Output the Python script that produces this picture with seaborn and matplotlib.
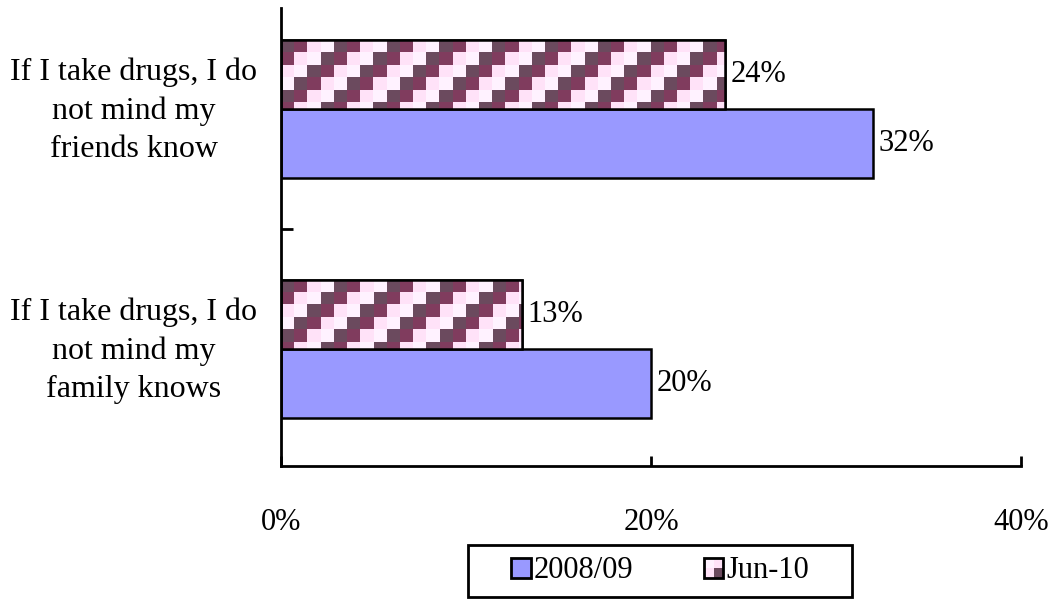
import numpy as np
import pandas as pd
import matplotlib
matplotlib.use("Agg")
import matplotlib.pyplot as plt
import matplotlib.transforms as mtransforms
from matplotlib.patches import Rectangle, Patch
from matplotlib.legend_handler import HandlerBase
from matplotlib.ticker import FixedLocator, PercentFormatter
import seaborn as sns

# Survey statements and share of respondents agreeing
statements = [
    "If I take drugs, I do\nnot mind my\nfriends know",
    "If I take drugs, I do\nnot mind my\nfamily knows",
]
periods = ["2008/09", "Jun-10"]
share_2008 = [0.32, 0.20]
share_jun10 = [0.24, 0.13]

x_ticks = [0.0, 0.2, 0.4]

df = pd.DataFrame({
    "statement": statements * 2,
    "period": [periods[0]] * 2 + [periods[1]] * 2,
    "share": share_2008 + share_jun10,
})

BLUE = "#9999ff"
PATTERN = ["#6b4a5e", "#803c5e", "#ffe2f8", "#fff2ff"]

sns.set_style("white")
plt.rcParams["font.family"] = ["Liberation Serif", "DejaVu Serif"]
plt.rcParams["text.color"] = "black"
plt.rcParams["xtick.labelcolor"] = "black"
plt.rcParams["ytick.labelcolor"] = "black"

W, H = 1054, 601
fig = plt.figure(figsize=(W / 100, H / 100), dpi=100)
fig.patch.set_facecolor("white")
ax = fig.add_axes([281 / W, (H - 466) / H, 740 / W, 458 / H])

sns.barplot(
    data=df, y="statement", x="share", hue="period",
    hue_order=["Jun-10", "2008/09"], order=statements,
    palette={"2008/09": BLUE, "Jun-10": PATTERN[3]},
    orient="h", width=0.575, saturation=1,
    edgecolor="black", linewidth=1.8, legend=False, ax=ax,
)

ax.set_xlim(0, 0.4)
ax.set_ylim(1 + 117 / 240, -101 / 240)
ax.set_xlabel("")
ax.set_ylabel("")

# Spines and ticks
for side in ["top", "right"]:
    ax.spines[side].set_visible(False)
for side in ["left", "bottom"]:
    ax.spines[side].set_linewidth(2.0)
    ax.spines[side].set_color("black")

ax.set_xticks(x_ticks)
ax.xaxis.set_major_formatter(PercentFormatter(1.0, decimals=0))
ax.tick_params(axis="x", direction="in", length=7, width=2.0, color="black",
               labelsize=22, pad=30, bottom=True)
ax.tick_params(axis="y", which="major", length=0, labelsize=23, pad=17)
ax.yaxis.set_minor_locator(FixedLocator([0.5]))
ax.tick_params(axis="y", which="minor", direction="in", length=8.5, width=2.0,
               color="black", left=True)
lift = mtransforms.ScaledTranslation(0, 6 / 100, fig.dpi_scale_trans)
for lab in ax.get_yticklabels():
    lab.set_multialignment("center")
    lab.set_linespacing(1.42)
    lab.set_color("black")
    lab.set_transform(lab.get_transform() + lift)

# Patterned fill for the Jun-10 bars
fig.canvas.draw()
jun_bars = ax.containers[0]
cell_w, cell_h = 13.2, 12.4
colors_rgb = np.array([matplotlib.colors.to_rgb(c) for c in PATTERN])
for bar in jun_bars:
    x0, y0 = bar.get_x(), bar.get_y()
    bw, bh = bar.get_width(), bar.get_height()
    (px0, py0), (px1, py1) = ax.transData.transform([(x0, y0), (x0 + bw, y0 + bh)])
    ncols = int(np.ceil(abs(px1 - px0) / cell_w))
    nrows = int(np.ceil(abs(py1 - py0) / cell_h))
    r, c = np.mgrid[0:nrows, 0:ncols]
    tex = colors_rgb[(c + r) % 4]
    img = ax.imshow(
        tex, extent=(x0, x0 + ncols * cell_w * bw / abs(px1 - px0),
                     y0 + nrows * cell_h * bh / abs(py1 - py0), y0),
        origin="upper", interpolation="nearest", aspect="auto", zorder=bar.get_zorder() + 0.1,
    )
    img.set_clip_path(bar)
    ax.add_patch(Rectangle((x0, y0), bw, bh, fill=False, edgecolor="black",
                           linewidth=1.8, zorder=bar.get_zorder() + 0.2))

ax.set_xlim(0, 0.4)
ax.set_ylim(1 + 117 / 240, -101 / 240)

# Value labels
for cont, vals in [(ax.containers[0], share_jun10), (ax.containers[1], share_2008)]:
    ax.bar_label(cont, labels=[f"{v:.0%}" for v in vals], padding=4, fontsize=22,
                 color="black")


class SwatchHandler(HandlerBase):
    def create_artists(self, legend, orig_handle, xdescent, ydescent, width, height,
                       fontsize, trans):
        x, y = -xdescent, -ydescent
        arts = []
        if orig_handle.get_label() == "Jun-10":
            arts.append(Rectangle((x, y), width, height, facecolor=PATTERN[2],
                                  edgecolor="none", transform=trans))
            arts.append(Rectangle((x, y + height / 2), width / 2, height / 2,
                                  facecolor=PATTERN[3], edgecolor="none", transform=trans))
            arts.append(Rectangle((x + width / 2, y), width / 2, height / 2,
                                  facecolor=PATTERN[0], edgecolor="none", transform=trans))
            arts.append(Rectangle((x, y), width, height, fill=False,
                                  edgecolor="black", linewidth=2, transform=trans))
        else:
            arts.append(Rectangle((x, y), width, height, facecolor=BLUE,
                                  edgecolor="black", linewidth=2, transform=trans))
        return arts


handles = [Patch(label="2008/09"), Patch(label="Jun-10")]
fig.legend(
    handles=handles, labels=periods, handler_map={Patch: SwatchHandler()},
    loc="center", bbox_to_anchor=(660 / W, (H - 571) / H), ncol=2,
    frameon=False, fontsize=22, handlelength=0.65, handleheight=0.65,
    handletextpad=0.1, columnspacing=2.3, labelcolor="black",
)
fig.patches.append(Rectangle((468 / W, (H - 597) / H), 384 / W, 52 / H,
                             transform=fig.transFigure, fill=False,
                             edgecolor="black", linewidth=2.0))

fig.savefig("out.png", dpi=100, facecolor="white")
